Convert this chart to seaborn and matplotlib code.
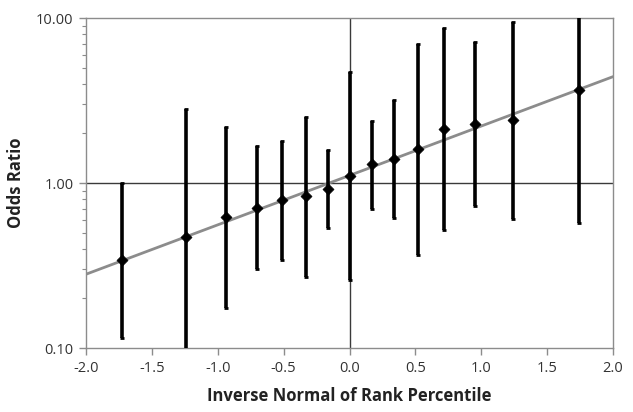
import numpy as np
import pandas as pd
import matplotlib
matplotlib.use("Agg")
import matplotlib.pyplot as plt
import seaborn as sns
from matplotlib.ticker import FixedLocator, FormatStrFormatter, LogLocator, NullFormatter

# Data
inv_normal = [-1.73, -1.24, -0.94, -0.70, -0.51, -0.33, -0.16, 0.00,
              0.17, 0.34, 0.52, 0.72, 0.95, 1.24, 1.74]
odds_ratio = [0.34, 0.47, 0.62, 0.71, 0.785, 0.83, 0.92, 1.11,
              1.30, 1.39, 1.60, 2.12, 2.28, 2.41, 3.66]
ci_lower = [0.115, 0.09, 0.175, 0.30, 0.34, 0.27, 0.535, 0.26,
            0.70, 0.61, 0.366, 0.52, 0.73, 0.605, 0.575]
ci_upper = [1.00, 2.80, 2.20, 1.68, 1.80, 2.50, 1.58, 4.73,
            2.39, 3.20, 6.95, 8.65, 7.20, 9.50, 11.0]
trend_x = [-2.0, 2.0]
trend_y = [0.28, 4.41]
x_ticks = [-2.0, -1.5, -1.0, -0.5, 0.0, 0.5, 1.0, 1.5, 2.0]
y_ticks = [0.1, 1.0, 10.0]

df = pd.DataFrame({"x": inv_normal, "or": odds_ratio, "lo": ci_lower, "hi": ci_upper})
trend = pd.DataFrame({"x": trend_x, "y": trend_y})

sns.set_theme(style="white")
plt.rcParams["font.family"] = ["Open Sans", "DejaVu Sans"]

fig = plt.figure(figsize=(6.33, 4.12), dpi=100)
ax = fig.add_axes([0.1359, 0.1553, 0.8325, 0.801])
ax.set_yscale("log")
ax.set_xlim(-2.0, 2.0)
ax.set_ylim(0.1, 10.0)

# reference lines
ax.axhline(1.0, color="#3a3a3a", lw=1.0, zorder=1)
ax.axvline(0.0, color="#3a3a3a", lw=1.0, zorder=1)

sns.lineplot(data=trend, x="x", y="y", ax=ax, color="#8c8c8c", lw=2.0, zorder=2)

ax.errorbar(df["x"], df["or"],
            yerr=[df["or"] - df["lo"], df["hi"] - df["or"]],
            fmt="none", ecolor="black", elinewidth=2.6, capsize=1.5, capthick=2.0, zorder=3)
sns.scatterplot(data=df, x="x", y="or", ax=ax, marker="D", s=32, color="black",
                edgecolor="black", zorder=4)

for s in ax.spines.values():
    s.set_color("#8c8c8c")
    s.set_linewidth(1.0)

ax.xaxis.set_major_locator(FixedLocator(x_ticks))
ax.xaxis.set_major_formatter(FormatStrFormatter("%.1f"))
ax.yaxis.set_major_locator(FixedLocator(y_ticks))
ax.yaxis.set_major_formatter(FormatStrFormatter("%.2f"))
ax.yaxis.set_minor_locator(LogLocator(base=10, subs=np.arange(2, 10)))
ax.yaxis.set_minor_formatter(NullFormatter())
ax.tick_params(axis="both", which="major", direction="out", length=5, width=1,
               color="#8c8c8c", labelsize=10.5, labelcolor="#333333", pad=4,
               bottom=True, left=True)
ax.tick_params(axis="y", which="minor", direction="out", length=3, width=0.8,
               color="#8c8c8c", left=True)

ax.set_xlabel("Inverse Normal of Rank Percentile", fontsize=12, fontweight="bold",
              color="#222222", labelpad=8)
ax.set_ylabel("Odds Ratio", fontsize=12, fontweight="bold", color="#222222", labelpad=8)

fig.savefig("out.png", dpi=100)
